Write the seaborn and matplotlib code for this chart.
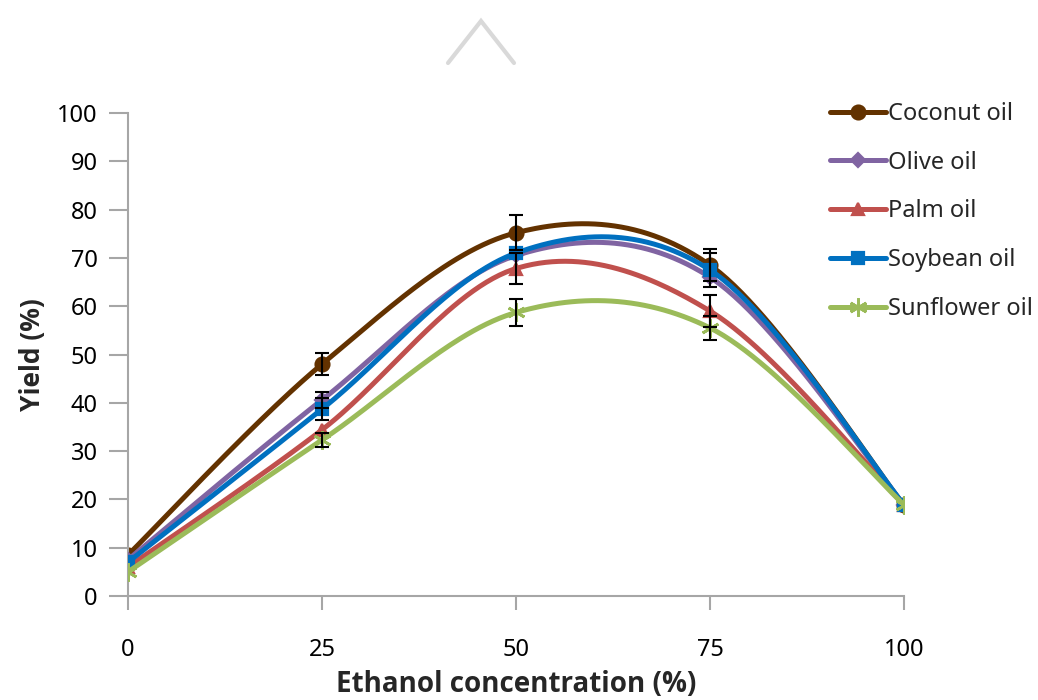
import numpy as np
import pandas as pd
import matplotlib
matplotlib.use("Agg")
import matplotlib.pyplot as plt
from matplotlib.lines import Line2D
import seaborn as sns

# Measured yields (%) at each ethanol concentration
ethanol = [0, 25, 50, 75, 100]
oils = ["Coconut oil", "Olive oil", "Palm oil", "Soybean oil", "Sunflower oil"]
coconut = [8.5, 48.0, 75.2, 68.5, 18.8]
olive = [7.5, 40.6, 70.5, 66.0, 18.9]
palm = [6.0, 34.4, 67.8, 59.0, 18.9]
soybean = [7.0, 38.7, 71.0, 67.5, 18.9]
sunflower = [5.0, 32.3, 58.7, 55.5, 18.9]
# Standard deviations (0 = not shown)
coconut_sd = [0, 2.3, 3.6, 3.3, 0]
olive_sd = [0, 1.7, 0, 0, 0]
palm_sd = [0, 0, 3.3, 3.3, 0]
soybean_sd = [0, 2.3, 0, 3.5, 0]
sunflower_sd = [0, 1.5, 2.8, 2.5, 0]

values = [coconut, olive, palm, soybean, sunflower]
errors = [coconut_sd, olive_sd, palm_sd, soybean_sd, sunflower_sd]
colors = ["#633200", "#8064A2", "#C0504D", "#0070C0", "#9BBB59"]
markers = ["o", "D", "^", "s", (6, 2, 0)]
msizes = [10, 7.5, 9, 9, 13]
medgew = [1.6, 1.6, 1.6, 1.6, 2.0]


def smooth_curve(x, y, n=60):
    """Cubic Bezier smoothing through every point (spreadsheet-style)."""
    p = np.column_stack([x, y]).astype(float)
    pts = []
    t = np.linspace(0, 1, n)[:, None]
    for i in range(len(p) - 1):
        prev_p = p[i - 1] if i > 0 else p[i]
        next_p = p[i + 2] if i + 2 < len(p) else p[i + 1]
        c1 = p[i] + (p[i + 1] - prev_p) / 6
        c2 = p[i + 1] - (next_p - p[i]) / 6
        seg = ((1 - t) ** 3) * p[i] + 3 * ((1 - t) ** 2) * t * c1 \
            + 3 * (1 - t) * t ** 2 * c2 + t ** 3 * p[i + 1]
        pts.append(seg if i == 0 else seg[1:])
    return np.vstack(pts)


sns.set_theme(style="white")
plt.rcParams["font.family"] = ["Noto Sans", "DejaVu Sans"]

fig = plt.figure(figsize=(10.38, 7.0), dpi=100)
ax = fig.add_axes([128 / 1038, 104 / 700, 776 / 1038, 483 / 700])

frames = []
for name, y in zip(oils, values):
    c = smooth_curve(ethanol, y)
    frames.append(pd.DataFrame({"x": c[:, 0], "y": c[:, 1], "oil": name}))
curves = pd.concat(frames, ignore_index=True)

palette = dict(zip(oils, colors))
for k, name in enumerate(oils):
    sub = curves[curves["oil"] == name]
    sns.lineplot(data=sub, x="x", y="y", color=palette[name], sort=False,
                 estimator=None, linewidth=3.6, ax=ax, zorder=2 + k,
                 legend=False)
    ax.plot(ethanol, values[k], linestyle="none", marker=markers[k],
            markersize=msizes[k], color=colors[k], markeredgecolor=colors[k],
            markeredgewidth=medgew[k], zorder=2 + k)

for k in range(len(oils)):
    xs = [x for x, e in zip(ethanol, errors[k]) if e > 0]
    ys = [v for v, e in zip(values[k], errors[k]) if e > 0]
    es = [e for e in errors[k] if e > 0]
    if xs:
        ax.errorbar(xs, ys, yerr=es, fmt="none", ecolor="black",
                    elinewidth=1.5, capsize=5, capthick=1.5, zorder=20)

ax.set_xlim(0, 100)
ax.set_ylim(0, 100)
ax.set_xticks(ethanol)
ax.set_yticks(range(0, 101, 10))
for side in ["top", "right"]:
    ax.spines[side].set_visible(False)
for side in ["left", "bottom"]:
    ax.spines[side].set_color("#A6A6A6")
    ax.spines[side].set_linewidth(1.5)
ax.tick_params(axis="y", which="major", direction="out", length=14,
               width=1.5, color="#A6A6A6", labelsize=17, pad=8,
               left=True, labelcolor="#000000")
ax.tick_params(axis="x", which="major", direction="out", length=10,
               width=1.5, color="#A6A6A6", labelsize=17, pad=20,
               bottom=True, labelcolor="#000000")
ax.set_xlabel("Ethanol concentration (%)", fontsize=20, fontweight="bold",
              family=["Open Sans", "DejaVu Sans"], labelpad=6)
ax.set_ylabel("Yield (%)", fontsize=19, fontweight="bold",
              family=["Open Sans", "DejaVu Sans"], labelpad=8)
ax.grid(False)

handles = [Line2D([0], [0], color=c, lw=3.6, marker=m, markersize=s,
                  markeredgecolor=c, markeredgewidth=w)
           for c, m, s, w in zip(colors, markers, msizes, medgew)]
fig.legend(handles, oils, loc="upper left", bbox_to_anchor=(818 / 1038, 1 - 90 / 700),
           frameon=False, fontsize=17, handlelength=2.4, handletextpad=0.05,
           labelspacing=1.05, borderpad=0)

# Light grey chevron above the plot
fig.add_artist(Line2D([448 / 1038, 481 / 1038, 514 / 1038],
                      [1 - 63 / 700, 1 - 21 / 700, 1 - 63 / 700],
                      transform=fig.transFigure, color="#D9D9D9", lw=3.0,
                      solid_joinstyle="miter"))

fig.savefig("out.png", dpi=100)
